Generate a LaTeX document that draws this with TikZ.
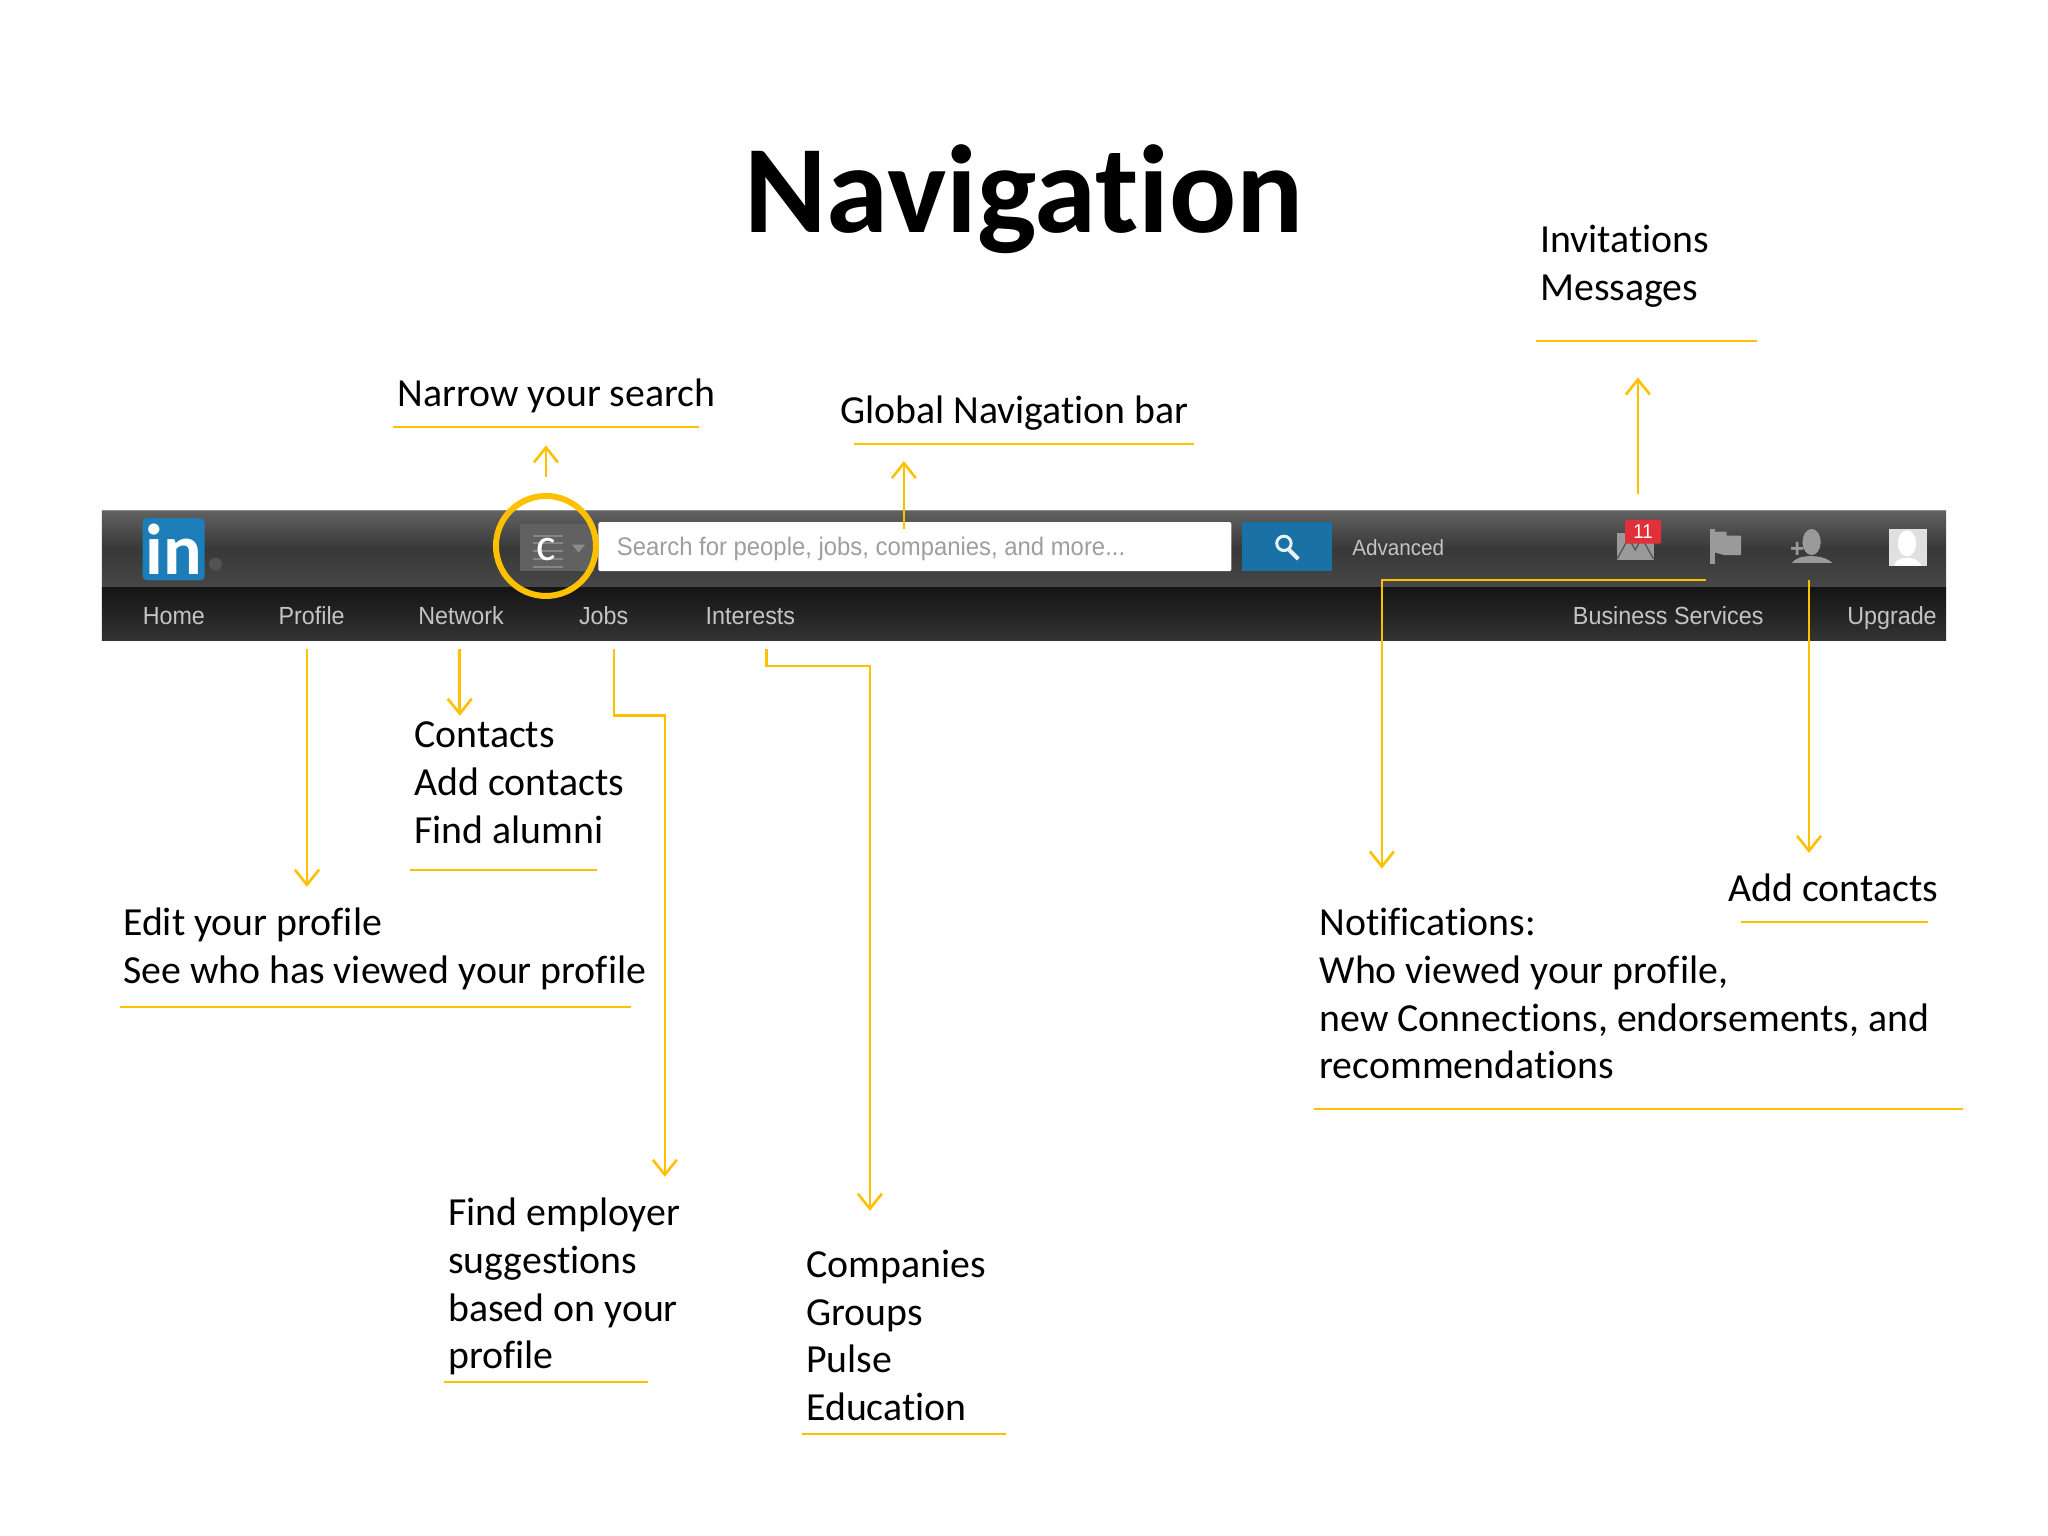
\documentclass[tikz,border=0pt]{standalone}
\usepackage{fontspec}
\setmainfont[Ligatures=NoCommon]{Carlito}
\newfontfamily\uifont[FakeStretch=0.94]{Liberation Sans}
\usetikzlibrary{arrows.meta}
\definecolor{gold}{HTML}{FFC000}
\definecolor{navtext}{HTML}{C4C4C4}
\definecolor{lblue}{HTML}{1C7DB8}
\definecolor{iconcol}{HTML}{9A9A9A}
\tikzset{
 x=0.653pt,y=-0.653pt,
 lbl/.style={anchor=base west,inner sep=0pt,align=left,font=\fontsize{19.9}{23.85}\selectfont,text=black},
 nav/.style={anchor=base west,inner sep=0pt,font=\uifont\fontsize{12.4}{14}\selectfont,text=navtext},
 link/.style={draw=gold,line width=1.3pt,line join=miter,-{Straight Barb[length=7.5pt,width=12pt,line width=1.3pt]}},
 rule/.style={draw=gold,line width=0.8pt},
 icon/.style={fill=iconcol,draw=none},
}
\begin{document}
\begin{tikzpicture}
\useasboundingbox (0,0) rectangle (1568,1176);
\fill[white] (0,0) rectangle (1568,1176);
% title
\node[anchor=base,inner sep=0pt,font=\fontsize{62.6}{70}\selectfont\bfseries] (title) at (784,178) {Navigation};
% bar
\shade[top color=black!62,bottom color=black!72,middle color=black!78] (78,391) rectangle (1490,450);
\shade[top color=black!92,bottom color=black!80] (78,450) rectangle (1490,490);
\draw[black!45,line width=0.6pt] (78,391) -- (1490,391);
% logo
\node[fill=lblue,rounded corners=2pt,minimum width=31pt,minimum height=31pt,inner sep=0pt,text=white,font=\fontsize{36}{36}\selectfont\bfseries] (logo) at (133,420.5) {in};
\fill[black!68] (165,432) circle (5);
% search type box
\node[fill=black!62,minimum width=37pt,minimum height=23.5pt,inner sep=0pt] (typebox) at (426.5,419) {};
\foreach \yy in {410,416,422,428,434}{\draw[black!48,line width=1pt] (408,\yy) -- (431,\yy);}
\fill[black!45] (438,417) -- (448,417) -- (443,423) -- cycle;
\node[inner sep=0pt,text=white,font=\fontsize{23}{23}\selectfont] (ctext) at (418,421) {c};
% search field
\node[fill=white,rounded corners=1pt,minimum width=316.5pt,minimum height=24.5pt,inner sep=0pt] (field) at (700.5,418.5) {};
\node[anchor=base west,inner sep=0pt,text=black!38,font=\uifont\fontsize{12.7}{14}\selectfont] (fieldtext) at (472,425) {Search for people, jobs, companies, and more...};
% search button
\node[fill=lblue!90!black,minimum width=45pt,minimum height=24.5pt,inner sep=0pt] (btn) at (985.5,418.5) {};
\draw[white!90!lblue,line width=1.5pt] (983,416) circle (5.5);
\draw[white!90!lblue,line width=2pt] (987,421) -- (994,428);
\node[anchor=base west,inner sep=0pt,text=navtext,font=\uifont\fontsize{11}{14}\selectfont] (adv) at (1035,425) {Advanced};
% envelope
\fill[iconcol] (1238,408) rectangle (1266,429);
\draw[black!65,line width=0.7pt] (1238,428) -- (1247,412) -- (1252,421) -- (1257,412) -- (1266,428);
\node[fill={rgb,255:red,224;green,48;blue,58},rounded corners=1pt,minimum width=18pt,minimum height=12pt,inner sep=0pt,text=white,font=\uifont\fontsize{10}{10}\selectfont] (badge) at (1258,407) {11};
% flag
\fill[icon] (1309,405) rectangle (1313,432);
\fill[icon] (1313,407) -- (1322,407) -- (1322,410) -- (1333,410) -- (1333,425) -- (1320,425) -- (1313,423) -- cycle;
% add person
\fill[icon] (1387,415) ellipse (7 and 10);
\fill[icon] (1372,431) .. controls (1376,424) and (1396,424) .. (1403,431) -- cycle;
\node[inner sep=0pt,text=iconcol,font=\uifont\bfseries\fontsize{13}{13}\selectfont] (plus) at (1376,421) {+};
% avatar
\fill[black!12] (1446,405) rectangle (1475,433);
\fill[white] (1460,416) ellipse (7 and 10);
\fill[white] (1450,433) .. controls (1452,425) and (1468,425) .. (1471,433) -- cycle;
% nav labels
\node[nav] (home) at (109,478) {Home};
\node[nav] (profile) at (213,478) {Profile};
\node[nav] (network) at (320,478) {Network};
\node[nav] (jobs) at (443,478) {Jobs};
\node[nav] (interests) at (540,478) {Interests};
\node[nav] (biz) at (1204,478) {Business Services};
\node[nav] (upgrade) at (1414,478) {Upgrade};
% circle
\node[draw=gold,line width=3pt,circle,minimum size=50pt,inner sep=0pt] (ring) at (418,418) {};
% labels
\node[lbl] (narrow) at (304,311) {Narrow your search};
\node[lbl] (global) at (643,324) {Global Navigation bar};
\node[lbl] (invite) at (1179,230) {Invitations\\Messages};
\node[lbl] (contacts) at (317,645.5) {Contacts\\Add contacts\\Find alumni};
\node[lbl] (edit) at (94,753) {Edit your profile\\See who has viewed your profile};
\node[lbl] (employer) at (343,1048) {Find employer\\suggestions\\based on your\\profile};
\node[lbl] (companies) at (617,1087.5) {Companies\\Groups\\Pulse\\Education};
\node[lbl] (notif) at (1010,826) {Notifications:\\Who viewed your profile,\\new Connections, endorsements, and\\recommendations};
\node[lbl] (addc) at (1323,690) {Add contacts};
% underlines
\draw[rule] (301,327) -- (535,327);
\draw[rule] (654,340) -- (914,340);
\draw[rule] (1176,261) -- (1345,261);
\draw[rule] (314,666) -- (457,666);
\draw[rule] (92,771) -- (483,771);
\draw[rule] (340,1058) -- (496,1058);
\draw[rule] (614,1098) -- (770,1098);
\draw[rule] (1006,849) -- (1503,849);
\draw[rule] (1333,706) -- (1476,706);
% connector ends
\coordinate (profS) at (235,497); \coordinate (profE) at (235,679);
\coordinate (netS) at (352,497); \coordinate (netE) at (352,548);
\coordinate (jobS) at (470,497); \coordinate (jobE) at (509,901);
\coordinate (intS) at (587,497); \coordinate (intE) at (666,927);
\coordinate (narS) at (418,365); \coordinate (narE) at (418,341);
\coordinate (gloS) at (692,405); \coordinate (gloE) at (692,353);
\coordinate (invS) at (1254,378); \coordinate (invE) at (1254,289);
\coordinate (notS) at (1306,444); \coordinate (notE) at (1058,665);
\coordinate (addS) at (1385,444); \coordinate (addE) at (1385,653);
\draw[link] (profS) -- (profE);
\draw[link] (netS) -- (netE);
\draw[link] (jobS) |- (490,548) -| (jobE);
\draw[link] (intS) |- (630,510) -| (intE);
\draw[link] (narS) -- (narE);
\draw[link] (gloS) -- (gloE);
\draw[link] (invS) -- (invE);
\draw[link] (notS) -| (notE);
\draw[link] (addS) -- (addE);
\end{tikzpicture}
\end{document}
